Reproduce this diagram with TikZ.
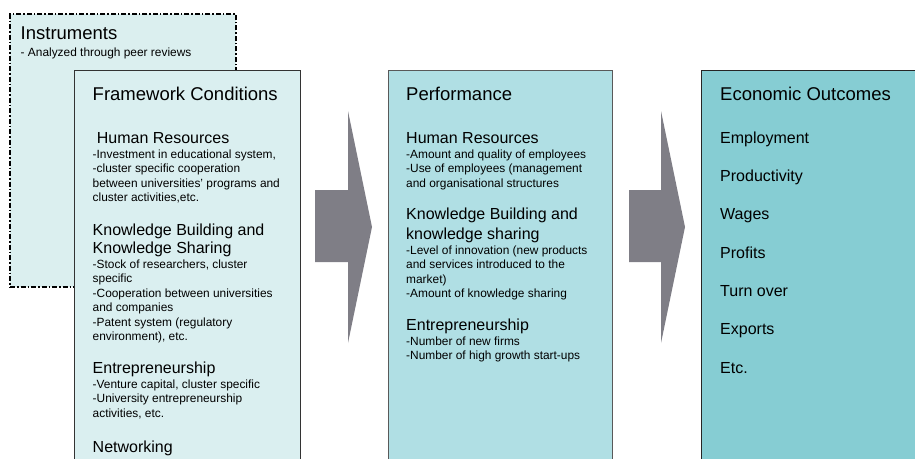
\documentclass[tikz,border=0pt]{standalone}
\usepackage{fontspec}
\setmainfont{Liberation Sans}
\definecolor{instrfill}{HTML}{DBEFEF}
\definecolor{fwfill}{HTML}{DAEFF0}
\definecolor{perffill}{HTML}{B0DFE4}
\definecolor{ecofill}{HTML}{86CDD3}
\definecolor{arrowgray}{HTML}{7F7E86}
\begin{document}
\begin{tikzpicture}[x=1pt,y=-1pt,
  boxbase/.style={anchor=north west, inner sep=0pt, outer sep=0pt},
  ttl/.style={anchor=base west, inner sep=0pt, font=\fontsize{18.5}{21}\selectfont},
  hd/.style={anchor=base west, inner sep=0pt, font=\fontsize{16}{18.5}\selectfont},
  sm/.style={anchor=base west, inner sep=0pt, align=left, font=\fontsize{11.9}{14.5}\selectfont},
  blockarrow/.style={fill=arrowgray, draw=none}]
\useasboundingbox (0,0) rectangle (915,458);
\clip (0,0) rectangle (915,458);
% boxes
\node[boxbase, draw=black, fill=instrfill, line width=1.5pt,
  dash pattern=on 5pt off 2pt on 1.5pt off 2pt,
  minimum width=226pt, minimum height=273pt] (instr) at (10,14) {};
\node[boxbase, draw=black!80, fill=fwfill, line width=0.9pt,
  minimum width=226pt, minimum height=400pt] (fw) at (74,70) {};
\node[boxbase, draw=black!65, fill=perffill, line width=0.9pt,
  minimum width=224pt, minimum height=400pt] (perf) at (388,70) {};
\node[boxbase, draw=black!85, fill=ecofill, line width=0.9pt,
  minimum width=240pt, minimum height=400pt] (eco) at (701,70) {};
% block arrows
\fill[blockarrow] (315,190) -- (348,190) -- (348,111) -- (372,227) -- (348,343) -- (348,262) -- (315,262) -- cycle;
\fill[blockarrow] (629,190) -- (661,190) -- (661,111) -- (685,227) -- (661,343) -- (661,262) -- (629,262) -- cycle;
% Instruments
\node[ttl] (instrT) at (20.5,39.5) {Instruments};
\node[sm] (instrS) at (20.5,56) {- Analyzed through peer reviews};
% Framework conditions (multi-line nodes: base = last line)
\node[ttl] (fwT) at (92.5,100) {Framework Conditions};
\node[hd] (fwH1) at (96.7,143) {Human Resources};
\node[sm] (fwS1) at (92.5,201.5) {-Investment in educational system,\\-cluster specific cooperation\\between universities' programs and\\cluster activities,etc.};
\node[hd] (fwH2a) at (92.5,235) {Knowledge Building and};
\node[hd] (fwH2b) at (92.5,253.5) {Knowledge Sharing};
\node[sm] (fwS2) at (92.5,340.5) {-Stock of researchers, cluster\\specific\\-Cooperation between universities\\and companies\\-Patent system (regulatory\\environment), etc.};
\node[hd] (fwH3) at (92.5,373) {Entrepreneurship};
\node[sm] (fwS3) at (92.5,417) {-Venture capital, cluster specific\\-University entrepreneurship\\activities, etc.};
\node[hd] (fwH4) at (92.5,452) {Networking};
% Performance
\node[ttl] (pT) at (406,100) {Performance};
\node[hd] (pH1) at (406,143) {Human Resources};
\node[sm] (pS1) at (406,187) {-Amount and quality of employees\\-Use of employees (management\\and organisational structures};
\node[hd] (pH2a) at (406,219) {Knowledge Building and};
\node[hd] (pH2b) at (406,239) {knowledge sharing};
\node[sm] (pS2) at (406,297.5) {-Level of innovation (new products\\and services introduced to the\\market)\\-Amount of knowledge sharing};
\node[hd] (pH3) at (406,330) {Entrepreneurship};
\node[sm] (pS3) at (406,359.5) {-Number of new firms\\-Number of high growth start-ups};
% Economic outcomes
\node[ttl] (eT) at (720,100) {Economic Outcomes};
\node[hd] (e1) at (720,143.3) {Employment};
\node[hd] (e2) at (720,181.6) {Productivity};
\node[hd] (e3) at (720,219.9) {Wages};
\node[hd] (e4) at (720,258.2) {Profits};
\node[hd] (e5) at (720,296.5) {Turn over};
\node[hd] (e6) at (720,334.8) {Exports};
\node[hd] (e7) at (720,373.1) {Etc.};
\end{tikzpicture}
\end{document}
